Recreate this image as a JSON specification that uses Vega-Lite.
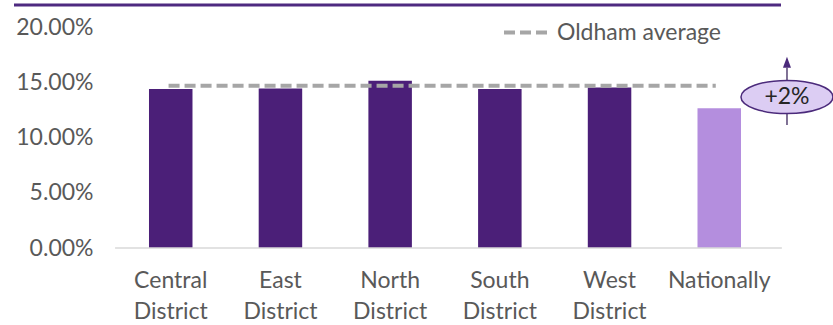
{
  "$schema": "https://vega.github.io/schema/vega-lite/v6.json",
  "width": 767,
  "height": 243,
  "autosize": {"type": "none"},
  "padding": {"left": 14, "top": 5, "right": 52, "bottom": 77},
  "background": "white",
  "config": {
    "view": {"stroke": null},
    "font": "Lato"
  },
  "datasets": {
    "bars": [
      {"area": "Central District", "value": 0.1445, "group": "District"},
      {"area": "East District", "value": 0.145, "group": "District"},
      {"area": "North District", "value": 0.152, "group": "District"},
      {"area": "South District", "value": 0.1445, "group": "District"},
      {"area": "West District", "value": 0.146, "group": "District"},
      {"area": "Nationally", "value": 0.127, "group": "National"}
    ],
    "avg": [
      {"from": "Central District", "to": "Nationally", "value": 0.1475, "series": "Oldham average"}
    ],
    "note": [
      {"area": "Nationally", "label": "+2%", "center": 0.1373, "shaftLow": 0.1118, "shaftHigh": 0.1639, "head": 0.1689}
    ],
    "frame": [
      {"top": 0.2209, "base": 0, "from": "Central District", "to": "Nationally"}
    ]
  },
  "layer": [
    {
      "data": {"name": "frame"},
      "mark": {"type": "rule", "color": "#4E2A80", "strokeWidth": 3},
      "encoding": {
        "y": {"field": "top", "type": "quantitative", "scale": {"domain": [0, 0.2209], "nice": false, "zero": true}}
      }
    },
    {
      "data": {"name": "bars"},
      "mark": {"type": "bar"},
      "encoding": {
        "x": {
          "field": "area", "type": "nominal", "sort": null,
          "scale": {"domain": ["Central District", "East District", "North District", "South District", "West District", "Nationally"], "paddingInner": 0.6035, "paddingOuter": 0.7976, "align": 0.7714},
          "axis": {
            "title": null, "domain": false, "ticks": false, "tickSize": 0,
            "labelExpr": "split(datum.label, ' ')",
            "labelFont": "Lato", "labelFontSize": 23, "labelColor": "#595959",
            "labelPadding": 21, "labelLineHeight": 31, "labelAngle": 0, "labelBaseline": "top"
          }
        },
        "y": {
          "field": "value", "type": "quantitative",
          "scale": {"domain": [0, 0.2209], "nice": false, "zero": true},
          "axis": {
            "title": null, "domain": false, "ticks": false, "tickSize": 0, "grid": false,
            "values": [0, 0.05, 0.1, 0.15, 0.2], "format": ".2%",
            "labelFont": "Lato", "labelFontSize": 23, "labelColor": "#595959",
            "labelPadding": -79, "labelAlign": "right"
          }
        },
        "color": {
          "field": "group", "type": "nominal",
          "scale": {"domain": ["District", "National"], "range": ["#4B1F78", "#B48EDE"]},
          "legend": null
        }
      }
    },
    {
      "data": {"name": "frame"},
      "mark": {"type": "rule", "color": "#D9D9D9", "strokeWidth": 1.5},
      "encoding": {
        "x": {"field": "from", "type": "nominal", "bandPosition": -0.78},
        "x2": {"field": "to", "bandPosition": 1.94},
        "y": {"field": "base", "type": "quantitative"}
      }
    },
    {
      "data": {"name": "avg"},
      "mark": {"type": "rule", "strokeWidth": 4, "strokeDash": [11, 5]},
      "encoding": {
        "x": {"field": "from", "type": "nominal", "bandPosition": 0.45},
        "x2": {"field": "to", "bandPosition": 0.42},
        "y": {"field": "value", "type": "quantitative"},
        "stroke": {
          "field": "series", "type": "nominal",
          "scale": {"range": ["#A6A6A6"]},
          "legend": {
            "title": null, "orient": "none", "legendX": 488, "legendY": 3,
            "symbolType": "stroke", "symbolSize": 2025, "symbolStrokeWidth": 4, "symbolDash": [11, 5],
            "symbolStrokeColor": "#A6A6A6",
            "labelFont": "Lato", "labelFontSize": 23, "labelColor": "#595959", "labelOffset": 6, "labelLimit": 400
          }
        }
      }
    },
    {
      "data": {"name": "note"},
      "mark": {"type": "rule", "color": "#7E7094", "strokeWidth": 2},
      "encoding": {
        "x": {"field": "area", "type": "nominal", "bandPosition": 2.057},
        "y": {"field": "shaftLow", "type": "quantitative"},
        "y2": {"field": "shaftHigh"}
      }
    },
    {
      "data": {"name": "note"},
      "mark": {"type": "point", "shape": "M0,-1L0.73,1L-0.73,1Z", "filled": true, "color": "#4B2A7B", "opacity": 1, "size": 121},
      "encoding": {
        "x": {"field": "area", "type": "nominal", "bandPosition": 2.057},
        "y": {"field": "head", "type": "quantitative"}
      }
    },
    {
      "data": {"name": "note"},
      "mark": {"type": "point", "shape": "M-1,0A1,0.36 0 1,1 1,0A1,0.36 0 1,1 -1,0Z", "filled": true, "fill": "#DCCDF3", "stroke": "#4B2A7B", "strokeWidth": 1.5, "opacity": 1, "size": 8464},
      "encoding": {
        "x": {"field": "area", "type": "nominal", "bandPosition": 2.057},
        "y": {"field": "center", "type": "quantitative"}
      }
    },
    {
      "data": {"name": "note"},
      "mark": {"type": "text", "font": "Lato", "fontSize": 23, "color": "#262626", "align": "center", "baseline": "middle"},
      "encoding": {
        "x": {"field": "area", "type": "nominal", "bandPosition": 2.057},
        "y": {"field": "center", "type": "quantitative"},
        "text": {"field": "label"}
      }
    }
  ]
}
